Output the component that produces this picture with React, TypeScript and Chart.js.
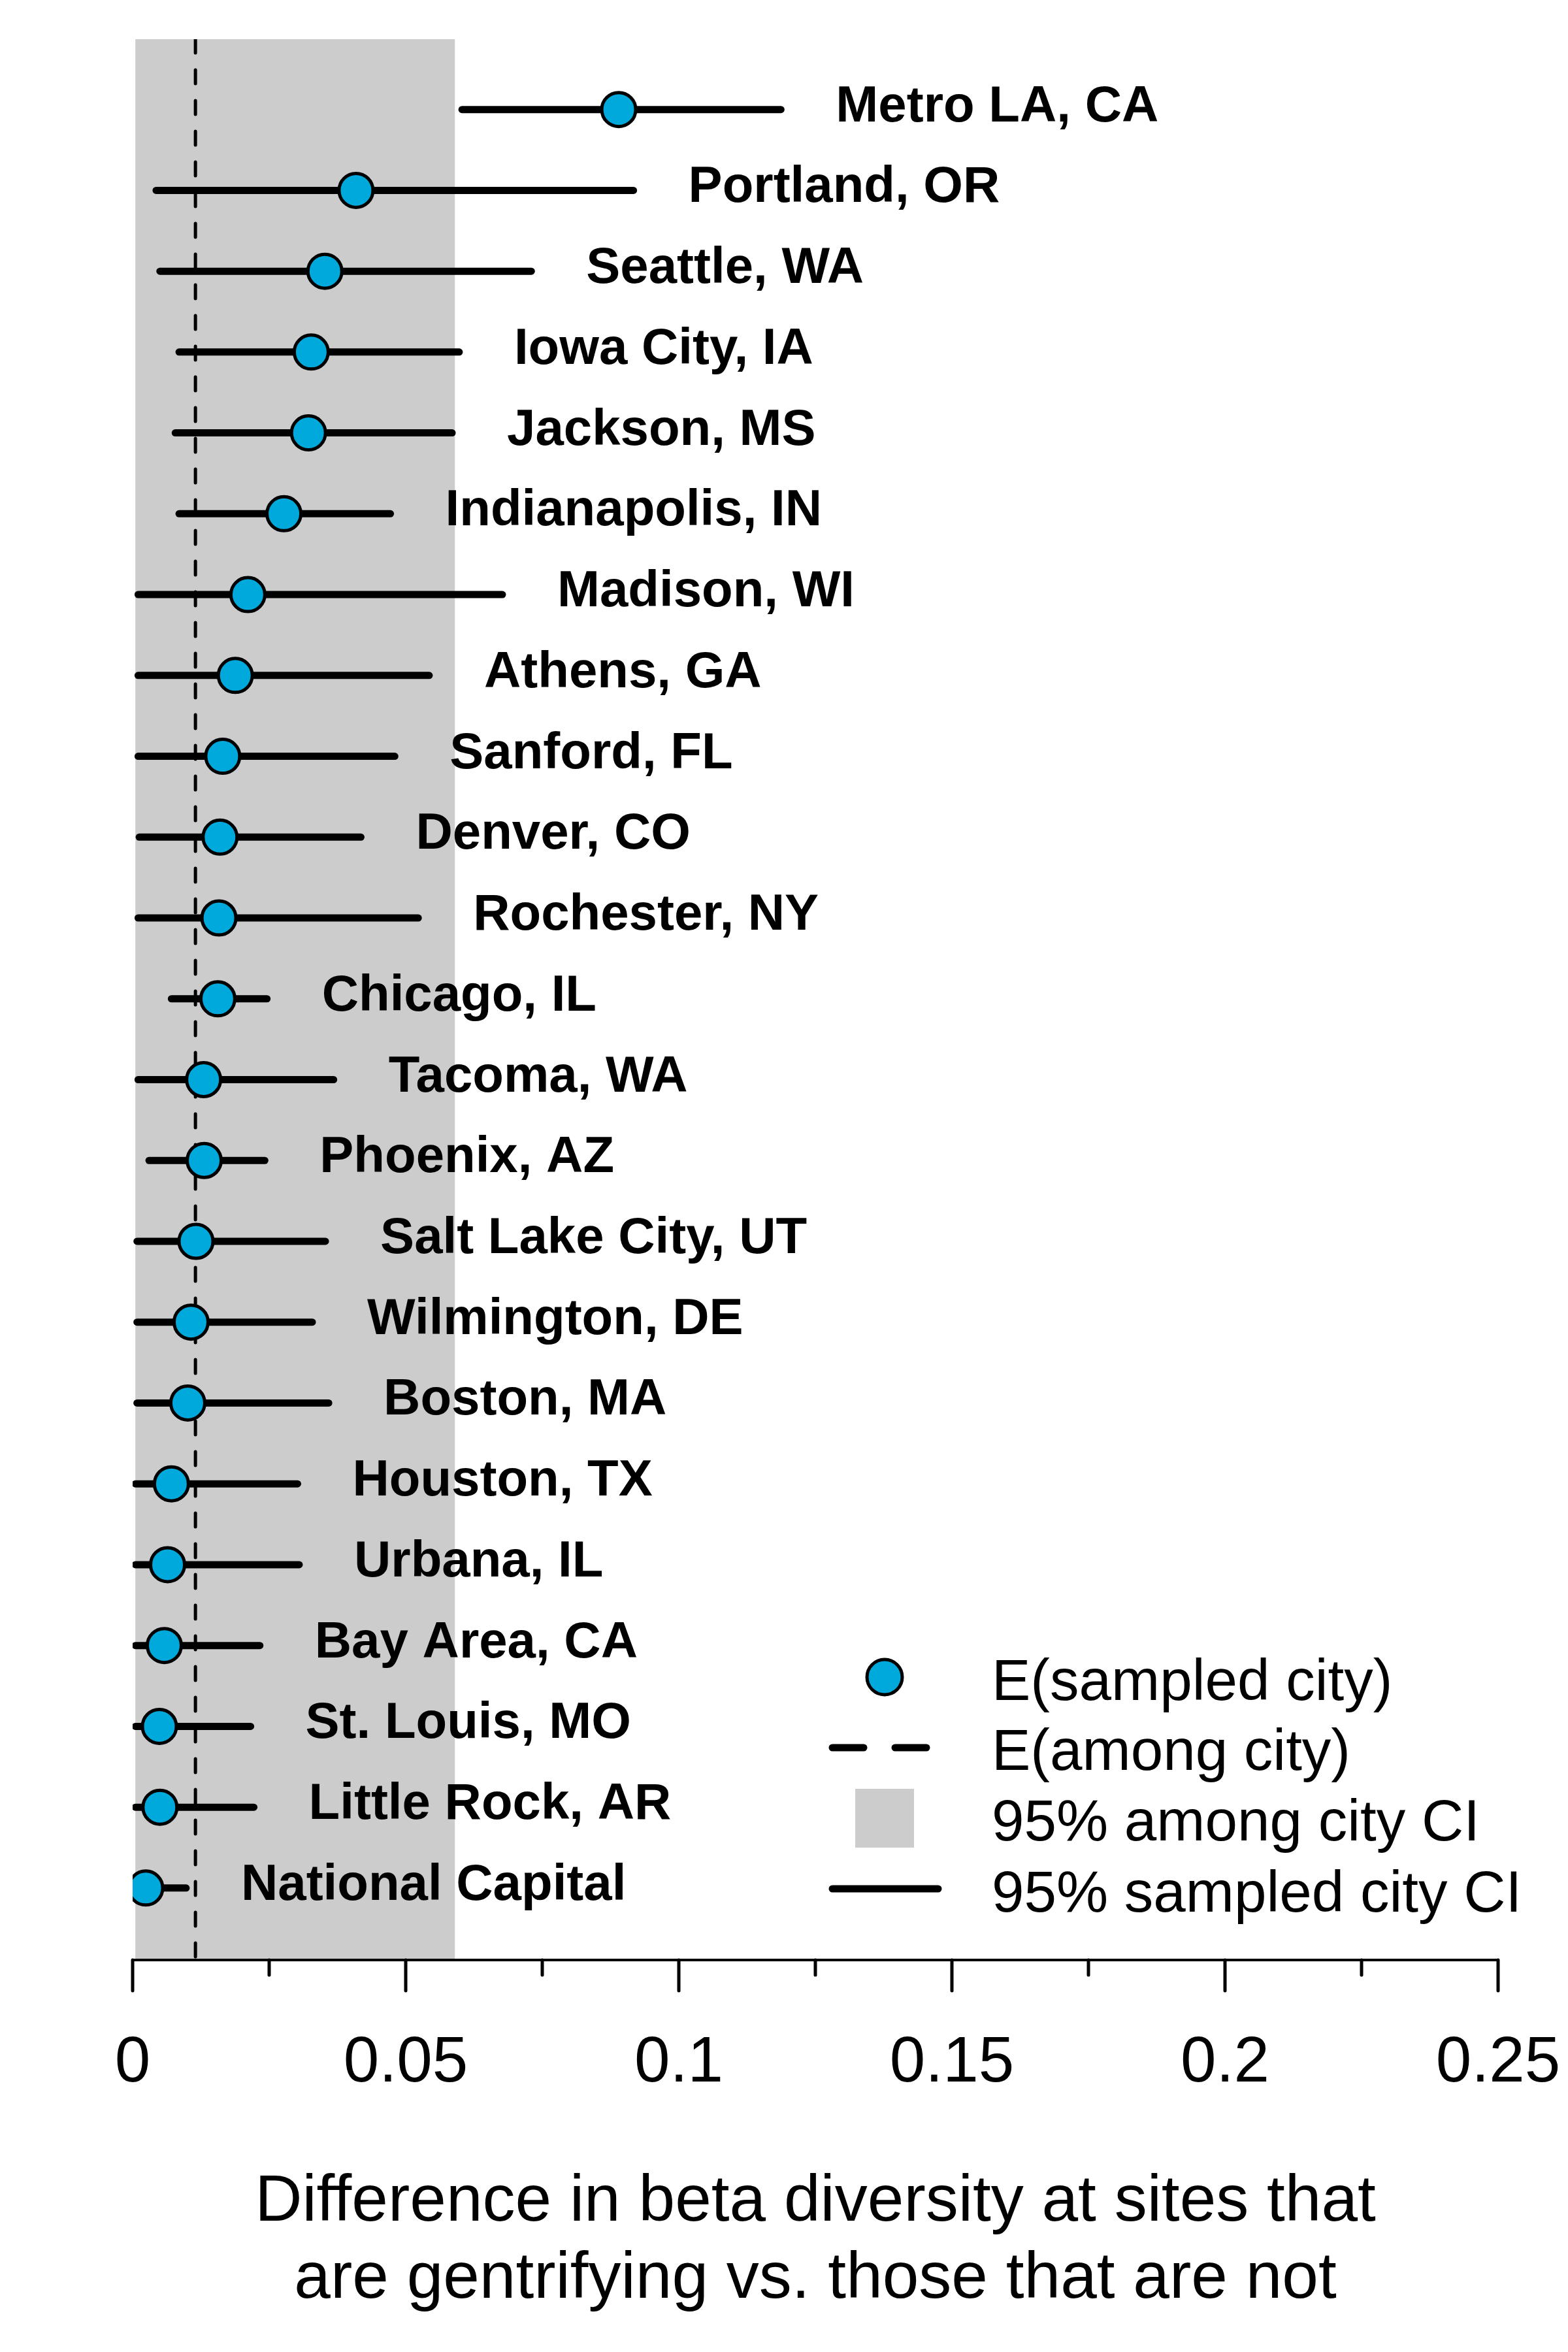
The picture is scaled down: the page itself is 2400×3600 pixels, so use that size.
import React, { useEffect, useRef } from 'react';
import { Chart, registerables } from 'chart.js';

Chart.register(...registerables);

// ---------------- data ----------------
const CITIES = [
  'Metro LA, CA', 'Portland, OR', 'Seattle, WA', 'Iowa City, IA', 'Jackson, MS',
  'Indianapolis, IN', 'Madison, WI', 'Athens, GA', 'Sanford, FL', 'Denver, CO',
  'Rochester, NY', 'Chicago, IL', 'Tacoma, WA', 'Phoenix, AZ', 'Salt Lake City, UT',
  'Wilmington, DE', 'Boston, MA', 'Houston, TX', 'Urbana, IL', 'Bay Area, CA',
  'St. Louis, MO', 'Little Rock, AR', 'National Capital',
];
const ESTIMATES = [
  0.0890, 0.0409, 0.0352, 0.0327, 0.0322,
  0.0277, 0.0211, 0.0188, 0.0165, 0.0160,
  0.0158, 0.0156, 0.0130, 0.0131, 0.0116,
  0.0107, 0.0101, 0.0071, 0.0064, 0.0058,
  0.0049, 0.0050, 0.0024,
];
const CI_LOW = [
  0.0603, 0.0043, 0.0050, 0.0085, 0.0078,
  0.0085, 0.0010, 0.0010, 0.0010, 0.0012,
  0.0010, 0.0071, 0.0010, 0.0030, 0.0008,
  0.0008, 0.0008, 0.0005, 0.0005, 0.0005,
  0.0005, 0.0005, 0.0005,
];
const CI_HIGH = [
  0.1187, 0.0917, 0.0730, 0.0598, 0.0585,
  0.0472, 0.0677, 0.0543, 0.0480, 0.0418,
  0.0523, 0.0246, 0.0368, 0.0242, 0.0353,
  0.0329, 0.0359, 0.0302, 0.0305, 0.0233,
  0.0216, 0.0222, 0.0098,
];
const AMONG_MEAN = 0.0115;
const AMONG_CI = [0.0005, 0.059];
const X_TICK_LABELS = ['0', '0.05', '0.1', '0.15', '0.2', '0.25'];
const X_TITLE = ['Difference in beta diversity at sites that', 'are gentrifying vs. those that are not'];
const LEGEND_LABELS = ['E(sampled city)', 'E(among city)', '95% among city CI', '95% sampled city CI'];

// ---------------- styles ----------------
const FONT = '"Liberation Sans", Arial, Helvetica, sans-serif';
const CYAN = '#00A9DB';
const GRAY = '#CCCCCC';
const Y_MIN = 0.11;
const Y_MAX = 23.87;
const rowValue = (i: number) => CITIES.length - i;

const decorPlugin = {
  id: 'decor',
  beforeDraw(chart: any) {
    const { ctx, chartArea, scales } = chart;
    const x = scales.x;
    const l = x.getPixelForValue(AMONG_CI[0]);
    const r = x.getPixelForValue(AMONG_CI[1]);
    ctx.save();
    ctx.fillStyle = GRAY;
    ctx.fillRect(l, chartArea.top, r - l, chartArea.bottom - chartArea.top);
    ctx.restore();
  },
  afterDatasetsDraw(chart: any) {
    const { ctx, scales } = chart;
    const x = scales.x;
    const y = scales.y;
    ctx.save();
    ctx.fillStyle = '#000';
    ctx.font = `bold 78px ${FONT}`;
    ctx.textAlign = 'left';
    ctx.textBaseline = 'alphabetic';
    CITIES.forEach((name, i) => {
      const px = x.getPixelForValue(CI_HIGH[i]) + 84;
      const py = y.getPixelForValue(rowValue(i)) + 18;
      ctx.fillText(name, px, py);
    });
    ctx.restore();
  },
  afterDraw(chart: any) {
    const { ctx, chartArea, scales } = chart;
    const x = scales.x;
    ctx.save();
    // tick marks
    ctx.strokeStyle = '#000';
    ctx.lineWidth = 5;
    ctx.lineCap = 'round';
    x.ticks.forEach((t: any) => {
      const px = x.getPixelForValue(t.value);
      const major = t.label !== '' && t.label !== undefined;
      const len = major ? 47 : 23;
      ctx.beginPath();
      ctx.moveTo(px, chartArea.bottom);
      ctx.lineTo(px, chartArea.bottom + len);
      ctx.stroke();
    });

    // legend
    ctx.beginPath();
    ctx.arc(1354, 2567, 27, 0, Math.PI * 2);
    ctx.fillStyle = CYAN;
    ctx.fill();
    ctx.lineWidth = 5;
    ctx.strokeStyle = '#000';
    ctx.stroke();
    ctx.lineWidth = 11;
    ctx.lineCap = 'round';
    ctx.setLineDash([48, 48]);
    ctx.beginPath();
    ctx.moveTo(1274, 2675);
    ctx.lineTo(1418, 2675);
    ctx.stroke();
    ctx.setLineDash([]);
    ctx.fillStyle = GRAY;
    ctx.fillRect(1309, 2738, 90, 90);
    ctx.beginPath();
    ctx.moveTo(1274, 2891);
    ctx.lineTo(1436, 2891);
    ctx.stroke();
    ctx.fillStyle = '#000';
    ctx.font = `89px ${FONT}`;
    ctx.textAlign = 'left';
    ctx.textBaseline = 'alphabetic';
    const baselines = [2602, 2709, 2817, 2926];
    LEGEND_LABELS.forEach((s, i) => ctx.fillText(s, 1518, baselines[i]));
    ctx.restore();
  },
};

export default function App() {
  const canvasRef = useRef<HTMLCanvasElement | null>(null);

  useEffect(() => {
    document.body.style.margin = '0';
    const canvas = canvasRef.current;
    if (!canvas) return;

    const ciDatasets = CITIES.map((name, i) => ({
      type: 'line' as const,
      label: name,
      data: [
        { x: CI_LOW[i], y: rowValue(i) },
        { x: CI_HIGH[i], y: rowValue(i) },
      ],
      borderColor: '#000',
      borderWidth: 11,
      borderCapStyle: 'round' as const,
      pointRadius: 0,
      showLine: true,
      fill: false,
      order: 2,
    }));

    const chart = new Chart(canvas, {
      type: 'line',
      data: {
        datasets: [
          {
            label: 'E(among city)',
            data: [
              { x: AMONG_MEAN, y: Y_MAX },
              { x: AMONG_MEAN, y: Y_MIN },
            ],
            borderColor: '#000',
            borderWidth: 5,
            borderDash: [21, 26],
            borderCapStyle: 'round',
            pointRadius: 0,
            showLine: true,
            fill: false,
            order: 3,
          },
          ...ciDatasets,
          {
            label: 'E(sampled city)',
            data: ESTIMATES.map((v, i) => ({ x: v, y: rowValue(i) })),
            showLine: false,
            pointRadius: 26,
            pointHoverRadius: 26,
            pointBackgroundColor: CYAN,
            pointBorderColor: '#000',
            pointBorderWidth: 5,
            order: 1,
          },
        ] as any,
      },
      options: {
        responsive: false,
        animation: false,
        devicePixelRatio: 1,
        events: [],
        layout: { padding: { left: 203, right: 107, top: 60, bottom: 0 } },
        plugins: {
          legend: { display: false },
          tooltip: { enabled: false },
          title: { display: false },
        },
        scales: {
          x: {
            type: 'linear',
            position: 'bottom',
            min: 0,
            max: 0.25,
            afterFit: (scale: any) => {
              scale.height = 600;
              scale.paddingLeft = 0;
              scale.paddingRight = 0;
            },
            border: { display: true, color: '#000', width: 4 },
            grid: { display: false, drawTicks: false, drawOnChartArea: false },
            ticks: {
              stepSize: 0.025,
              autoSkip: false,
              maxRotation: 0,
              minRotation: 0,
              padding: 100,
              color: '#000',
              font: { family: FONT, size: 98 },
              callback: (value: any) => {
                const k = Math.round(Number(value) / 0.025);
                return k % 2 === 0 ? X_TICK_LABELS[k / 2] : '';
              },
            },
            title: {
              display: true,
              text: X_TITLE,
              color: '#000',
              font: { family: FONT, size: 100, lineHeight: 1.18 },
              padding: { top: 0, bottom: 52 },
            },
          },
          y: {
            type: 'linear',
            display: false,
            min: Y_MIN,
            max: Y_MAX,
          },
        },
      } as any,
      plugins: [decorPlugin],
    });

    return () => {
      chart.destroy();
    };
  }, []);

  return (
    <div style={{ width: 2400, height: 3600 }}>
      <canvas ref={canvasRef} width={2400} height={3600} style={{ display: 'block' }} />
    </div>
  );
}
